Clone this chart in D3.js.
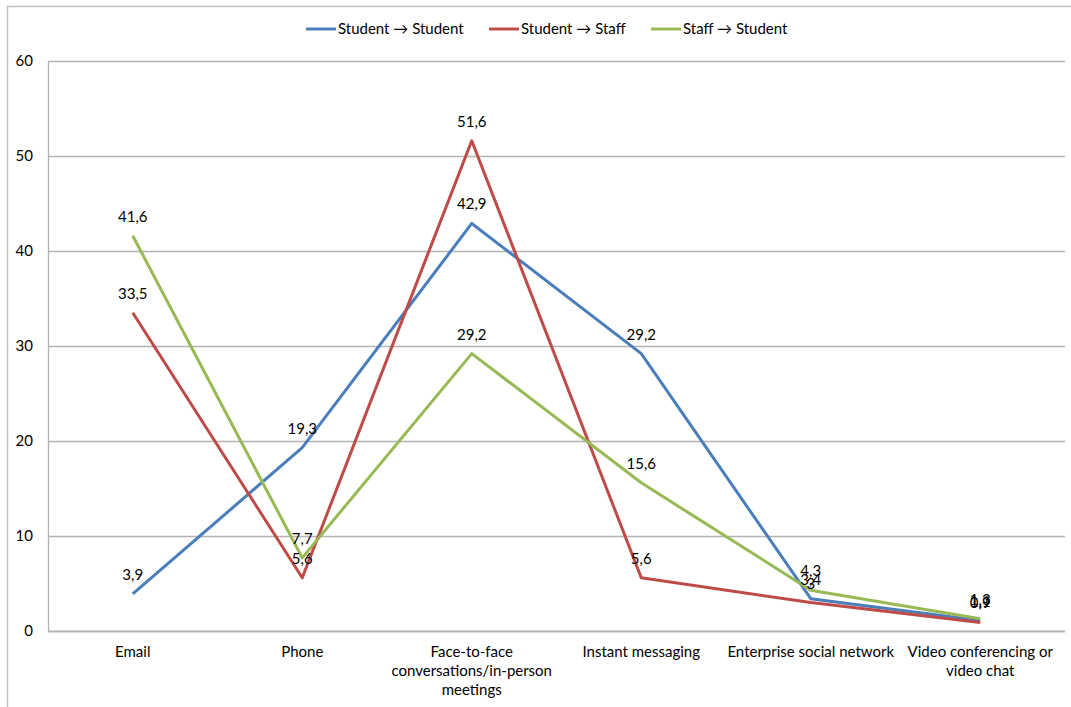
<!DOCTYPE html>
<html>
<head>
<meta charset="utf-8">
<script src="https://cdn.jsdelivr.net/npm/d3@7"></script>
<style>
  html, body { margin: 0; padding: 0; background: #fff; }
  svg { display: block; font-family: Lato, "Open Sans", sans-serif; }
</style>
</head>
<body>
<svg id="chart" width="1071" height="707"></svg>
<script>
const categories = ["Email", "Phone", "Face-to-face conversations/in-person meetings", "Instant messaging", "Enterprise social network", "Video conferencing or video chat"];
const categoryLines = [["Email"], ["Phone"], ["Face-to-face", "conversations/in-person", "meetings"], ["Instant messaging"], ["Enterprise social network"], ["Video conferencing or", "video chat"]];
const seriesNames = ["Student \u2192 Student", "Student \u2192 Staff", "Staff \u2192 Student"];
const studentToStudent = [3.9, 19.3, 42.9, 29.2, 3.4, 1.1];
const studentToStaff = [33.5, 5.6, 51.6, 5.6, 3, 0.9];
const staffToStudent = [41.6, 7.7, 29.2, 15.6, 4.3, 1.3];
const yTicks = [0, 10, 20, 30, 40, 50, 60];
const colors = ["#4A7EBB", "#BE4B48", "#98B954"];

const seriesValues = [studentToStudent, studentToStaff, staffToStudent];

const svg = d3.select("#chart");
const plotLeft = 48, plotRight = 1065, plotTop = 61, plotBottom = 631;
const fs = 15;

// chart area border
svg.append("path")
  .attr("d", `M7.5,707 L7.5,6.5 L1071,6.5`)
  .attr("fill", "none").attr("stroke", "#bfbfbf").attr("stroke-width", 1.5);

const x = d3.scaleBand().domain(categories).range([plotLeft, plotRight]);
const y = d3.scaleLinear().domain([0, 60]).range([plotBottom, plotTop]);

// gridlines
svg.append("g").selectAll("line").data(yTicks).join("line")
  .attr("x1", plotLeft).attr("x2", plotRight)
  .attr("y1", d => Math.round(y(d)) + 0.5).attr("y2", d => Math.round(y(d)) + 0.5)
  .attr("stroke", "#b3b3b3").attr("stroke-width", d => d === 0 ? 2 : 1.3);

// left axis line
svg.append("line")
  .attr("x1", plotLeft + 0.5).attr("x2", plotLeft + 0.5).attr("y1", plotTop).attr("y2", plotBottom)
  .attr("stroke", "#b3b3b3").attr("stroke-width", 1.3);

// y axis labels
const yAxis = d3.axisLeft(y).tickValues(yTicks).tickSize(0).tickPadding(15).tickFormat(d3.format("d"));
const gy = svg.append("g").attr("transform", `translate(${plotLeft},0)`).call(yAxis);
gy.select(".domain").remove();
gy.selectAll("text").attr("font-size", fs).attr("fill", "#000").attr("font-family", "Lato, 'Open Sans', sans-serif");

// x axis labels
const cx = c => x(c) + x.bandwidth() / 2;
const xl = svg.append("g");
categories.forEach((c, i) => {
  const t = xl.append("text")
    .attr("x", cx(c)).attr("y", plotBottom + 26)
    .attr("text-anchor", "middle").attr("font-size", fs).attr("fill", "#000");
  categoryLines[i].forEach((ln, j) => {
    t.append("tspan").attr("x", cx(c)).attr("dy", j === 0 ? 0 : 19).text(ln);
  });
});

// lines
const line = d3.line().x((d, i) => cx(categories[i])).y(d => y(d));
seriesValues.forEach((vals, s) => {
  svg.append("path").datum(vals)
    .attr("d", line)
    .attr("fill", "none")
    .attr("stroke", colors[s])
    .attr("stroke-width", 3)
    .attr("stroke-linejoin", "round");
});

// data labels
const fmt = v => String(v).replace(".", ",");
seriesValues.forEach((vals, s) => {
  svg.append("g").selectAll("text").data(vals).join("text")
    .attr("x", (d, i) => cx(categories[i]))
    .attr("y", d => y(d) - 14)
    .attr("text-anchor", "middle")
    .attr("font-size", fs)
    .attr("fill", "#000")
    .text(d => fmt(d));
});

// legend
const legendItems = [
  { x: 306, tx: 338 },
  { x: 489, tx: 521 },
  { x: 651, tx: 683 }
];
const lg = svg.append("g");
seriesNames.forEach((n, i) => {
  lg.append("line")
    .attr("x1", legendItems[i].x).attr("x2", legendItems[i].x + 30)
    .attr("y1", 29).attr("y2", 29)
    .attr("stroke", colors[i]).attr("stroke-width", 3);
  lg.append("text")
    .attr("x", legendItems[i].tx).attr("y", 34)
    .attr("font-size", fs).attr("fill", "#000")
    .text(n);
});
</script>
</body>
</html>
